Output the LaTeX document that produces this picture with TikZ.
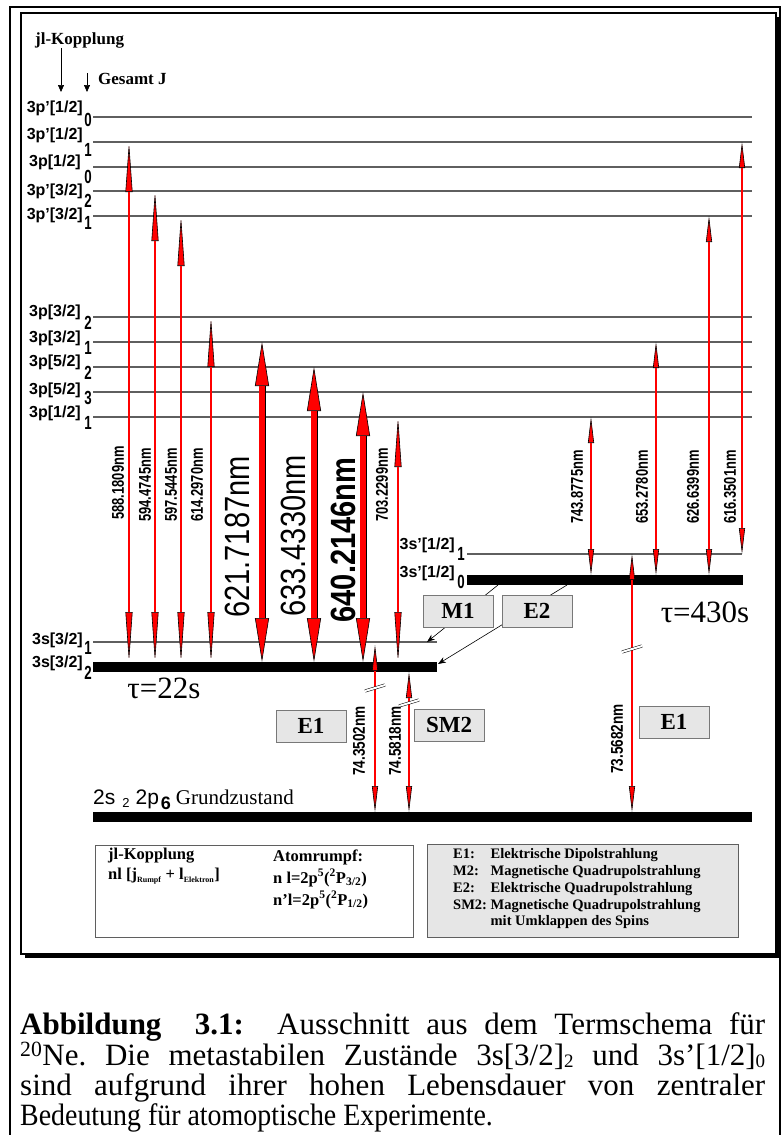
\documentclass[tikz,border=0pt]{standalone}
\usepackage{fontspec}
\setmainfont{Liberation Serif}
\setsansfont{Liberation Sans}
\usepackage{graphicx}
\usetikzlibrary{arrows.meta}
\definecolor{BoxGray}{RGB}{230,230,230}
\definecolor{LineGray}{RGB}{95,95,95}
\definecolor{EdgeGray}{RGB}{120,120,120}
\newcommand\fsz[1]{\fontsize{#1}{#1}\selectfont}
\newcommand\narrow[2]{\scalebox{#1}[1]{#2}}
\newcommand\jn[1]{\scalebox{.7}[1]{#1}}
\newcommand\lowsub[1]{\raisebox{-2pt}{\fsz{19}#1}}
\frenchspacing

\begin{document}
\begin{tikzpicture}[x=1pt,y=-1pt,
  lvl/.style={draw=LineGray,line width=1.1pt},
  bar/.style={line width=10pt},
  tag/.style={font=\sffamily\bfseries\fsz{16},inner sep=0pt,anchor=east},
  jnum/.style={font=\sffamily\bfseries\fsz{19},inner sep=0pt},
  wl/.style={rotate=90,inner sep=0pt,font=\sffamily\bfseries\fsz{17}},
  wlbig/.style={rotate=90,inner sep=0pt,font=\sffamily\fsz{35}},
  redarr/.style n args={4}{draw=black,line width=#2,
    >={Triangle[length=#3,width=#4,fill=red,line width=.6pt]},<->,
    postaction={draw=red,-,line width=#1,shorten <=#3,shorten >=#3}},
  thinred/.style={redarr={1.6pt}{2.6pt}{50pt}{7pt}},
  thickred/.style={redarr={6pt}{7pt}{44pt}{14pt}},
  shortred/.style={redarr={1.6pt}{2.6pt}{26pt}{6pt}},
  brk/.style={double=white,double distance=2pt,line width=.5pt},
  ptr/.style={draw=black,line width=.6pt,-{Stealth[length=8pt,width=6pt]}},
  hdarr/.style={line width=.7pt,-{Triangle[length=7pt,width=6pt]}},
  typ/.style={draw=EdgeGray,fill=BoxGray,minimum width=70pt,minimum height=32pt,
              inner sep=0pt,font=\bfseries\fsz{23}},
  head/.style={inner sep=0pt,anchor=west,font=\bfseries\fsz{17}}]

\useasboundingbox (0,0) rectangle (782,1135);

% frames
\draw[line width=2pt] (10,1140) -- (10,7) -- (780,7) -- (780,1140);
\fill (25,17) rectangle (780,958);
\draw[fill=white,line width=1.2pt] (21,13) rectangle (776,954);

% header
\node[head] (jlhead) at (35,40) {jl-Kopplung};
\node[head] (gesamt) at (98,79) {Gesamt J};
\coordinate (jlarr) at (61,92);
\coordinate (jtop) at (87,73);
\coordinate (jarr) at (87,92);
\draw[hdarr] (jlhead.south -| jlarr) -- (jlarr);
\draw[hdarr] (jtop) -- (jarr);

% 3p levels
\draw[lvl] (93,117) coordinate (L0) -- (752,117);
\draw[lvl] (93,142) coordinate (L1) -- (752,142);
\draw[lvl] (93,167) coordinate (L2) -- (752,167);
\draw[lvl] (93,191) coordinate (L3) -- (752,191);
\draw[lvl] (93,216) coordinate (L4) -- (752,216);
\draw[lvl] (93,317) coordinate (L5) -- (752,317);
\draw[lvl] (93,342) coordinate (L6) -- (752,342);
\draw[lvl] (93,367) coordinate (L7) -- (752,367);
\draw[lvl] (93,392) coordinate (L8) -- (752,392);
\draw[lvl] (93,417) coordinate (L9) -- (752,417);

\node[tag] (t0) at (83,108) {3p'[1/2]};  \node[jnum] (j0) at (88,120) {\jn{0}};
\node[tag] (t1) at (83,135) {3p'[1/2]};  \node[jnum] (j1) at (88,150) {\jn{1}};
\node[tag] (t2) at (81,162) {3p[1/2]};   \node[jnum] (j2) at (88,177) {\jn{0}};
\node[tag] (t3) at (83,191) {3p'[3/2]};  \node[jnum] (j3) at (88,201) {\jn{2}};
\node[tag] (t4) at (83,215) {3p'[3/2]};  \node[jnum] (j4) at (88,223) {\jn{1}};
\node[tag] (t5) at (81,312) {3p[3/2]};   \node[jnum] (j5) at (88,323) {\jn{2}};
\node[tag] (t6) at (81,338) {3p[3/2]};   \node[jnum] (j6) at (88,348) {\jn{1}};
\node[tag] (t7) at (81,362) {3p[5/2]};   \node[jnum] (j7) at (88,373) {\jn{2}};
\node[tag] (t8) at (81,390) {3p[5/2]};   \node[jnum] (j8) at (88,398) {\jn{3}};
\node[tag] (t9) at (81,413) {3p[1/2]};   \node[jnum] (j9) at (88,423) {\jn{1}};

% 3s levels and ground state
\draw[lvl] (93,642) coordinate (S1) -- (437,642);
\draw[bar] (93,667) coordinate (S2) -- (437,667);
\coordinate (S2t) at (93,662);
\coordinate (S2b) at (93,672);
\draw[lvl] (467,554) coordinate (U1) -- (742,554);
\draw[bar] (467,580) coordinate (U0) -- (743,580);
\coordinate (U0t) at (467,575);
\draw[bar] (93,817) coordinate (G) -- (752,817);
\coordinate (Gt) at (93,812);

\node[tag] (ts1) at (83,640) {3s[3/2]};  \node[jnum] (js1) at (88,648) {\jn{1}};
\node[tag] (ts2) at (83,663) {3s[3/2]};  \node[jnum] (js2) at (88,673) {\jn{2}};
\node[tag] (tu1) at (455,545) {3s'[1/2]}; \node[jnum] (ju1) at (461,554) {\jn{1}};
\node[tag] (tu0) at (455,573) {3s'[1/2]}; \node[jnum] (ju0) at (461,582) {\jn{0}};

\node[inner sep=0pt,anchor=base west] (gz) at (93,804)
  {\sffamily\fsz{21}2s\hspace{7pt}\raisebox{-3pt}{\fsz{13}2}\hspace{6pt}2p\hspace{2pt}\raisebox{-5pt}{\bfseries\fsz{18}6}\hspace{5pt}\rmfamily\fsz{21}Grundzustand};

% transitions to 3s[3/2]
\draw[thinred]  (129,0 |- L1) -- (129,0 |- S2t);
\draw[thinred]  (155,0 |- L3) -- (155,0 |- S2t);
\draw[thinred]  (181,0 |- L4) -- (181,0 |- S2t);
\draw[thinred]  (211,0 |- L5) -- (211,0 |- S2t);
\draw[thickred] (262,0 |- L6) -- (262,0 |- S2t);
\draw[thickred] (314,0 |- L7) -- (314,0 |- S2t);
\draw[thickred] (363,0 |- L8) -- (363,0 |- S2t);
\draw[thinred]  (398,0 |- L9) -- (398,0 |- S2t);

\node[wl] (w1) at (118,483) {\narrow{.76}{588.1809nm}};
\node[wl] (w2) at (145,485) {\narrow{.76}{594.4745nm}};
\node[wl] (w3) at (171,485) {\narrow{.76}{597.5445nm}};
\node[wl] (w4) at (197,485) {\narrow{.76}{614.2970nm}};
\node[wlbig] (w5) at (237,537) {\narrow{.83}{621.7187nm}};
\node[wlbig] (w6) at (293,536) {\narrow{.83}{633.4330nm}};
\node[wlbig,font=\sffamily\bfseries\fsz{35}] (w7) at (343,540) {\narrow{.83}{640.2146nm}};
\node[wl] (w8) at (382,485) {\narrow{.76}{703.2299nm}};

% transitions to 3s'[1/2]
\draw[shortred] (591,0 |- L9) -- (591,0 |- U0t);
\draw[shortred] (656,0 |- L6) -- (656,0 |- U0t);
\draw[shortred] (709,0 |- L4) -- (709,0 |- U0t);
\draw[shortred] (742,0 |- L1) -- (742,0 |- U1);

\node[wl] (v1) at (577,487) {\narrow{.76}{743.8775nm}};
\node[wl] (v2) at (642,487) {\narrow{.76}{653.2780nm}};
\node[wl] (v3) at (693,487) {\narrow{.76}{626.6399nm}};
\node[wl] (v4) at (730,487) {\narrow{.76}{616.3501nm}};

% VUV transitions to ground state
\draw[shortred] (375,645) -- (375,0 |- Gt);
\draw[shortred] (409,0 |- S2b) -- (409,0 |- Gt);
\draw[shortred] (632,0 |- U1) -- (632,0 |- Gt);
\draw[brk] (365,691) -- (385,685);
\draw[brk] (399,706) -- (419,700);
\draw[brk] (622,652) -- (642,646);

\node[wl] (x1) at (359,741) {\narrow{.8}{74.3502nm}};
\node[wl] (x2) at (395,741) {\narrow{.8}{74.5818nm}};
\node[wl] (x3) at (617,739) {\narrow{.8}{73.5682nm}};

% lifetimes
\node[font=\fsz{31},inner sep=0pt] (tau1) at (164,688) {τ=22s};
\node[font=\fsz{31},inner sep=0pt] (tau2) at (705,612) {τ=430s};

% multipole types
\coordinate (m1src) at (498,585);
\coordinate (m1tip) at (427,642);
\coordinate (e2src) at (567,585);
\coordinate (e2tip) at (438,664);
\draw[ptr] (m1src) -- (m1tip);
\draw[ptr] (e2src) -- (e2tip);
\node[typ] (m1) at (458,611) {M1};
\node[typ] (e2) at (537,611) {E2};
\node[typ] (e1a) at (311,726) {E1};
\node[typ] (sm2) at (449,725) {SM2};
\node[typ] (e1b) at (674,722) {E1};

% legends
\node[draw=LineGray,fill=white,minimum width=318pt,minimum height=92pt,inner sep=0pt] (keyl) at (254,891) {};
\node[head,font=\bfseries\fsz{16.5}] (kl1) at (108,856) {jl-Kopplung};
\node[head,font=\bfseries\fsz{16.5}] (kl2) at (108,876)
  {nl [j\textsubscript{\fsz{8}Rumpf} + l\textsubscript{\fsz{8}Elektron}]};
\node[head,font=\bfseries\fsz{16.5}] (kl3) at (273,857) {Atomrumpf:};
\node[head,font=\bfseries\fsz{16.5}] (kl4) at (273,878)
  {n l=2p\textsuperscript{5}(\textsuperscript{2}P\textsubscript{3/2})};
\node[head,font=\bfseries\fsz{16.5}] (kl5) at (273,900)
  {n’l=2p\textsuperscript{5}(\textsuperscript{2}P\textsubscript{1/2})};

\node[draw=LineGray,fill=BoxGray,minimum width=311pt,minimum height=93pt,inner sep=0pt] (keyr) at (582.5,890.5) {};
\node[inner sep=0pt,anchor=north west,font=\bfseries\fontsize{14.5}{16.7}\selectfont] (keytxt) at (453,847)
  {\begin{tabular}{@{}l@{\ }l@{}}
   E1:  & Elektrische Dipolstrahlung\\
   M2:  & Magnetische Quadrupolstrahlung\\
   E2:  & Elektrische Quadrupolstrahlung\\
   SM2: & Magnetische Quadrupolstrahlung\\
        & mit Umklappen des Spins
   \end{tabular}};

% caption
\node[anchor=north west,inner sep=0pt,text width=745pt,align=justify,
      font=\fontsize{31}{30}\selectfont] (capt) at (20,1012)
  {\setlength{\lineskiplimit}{-20pt}%
   \textbf{Abbildung~~3.1:}~ Ausschnitt aus dem Termschema für\linebreak
   \textsuperscript{20}Ne. Die metastabilen Zustände 3s[3/2]\lowsub{2} und 3s’[1/2]\lowsub{0}\linebreak
   sind aufgrund ihrer hohen Lebensdauer von zentraler\linebreak
   \narrow{.9}{Bedeutung für atomoptische Experimente.}};
\end{tikzpicture}
\end{document}
